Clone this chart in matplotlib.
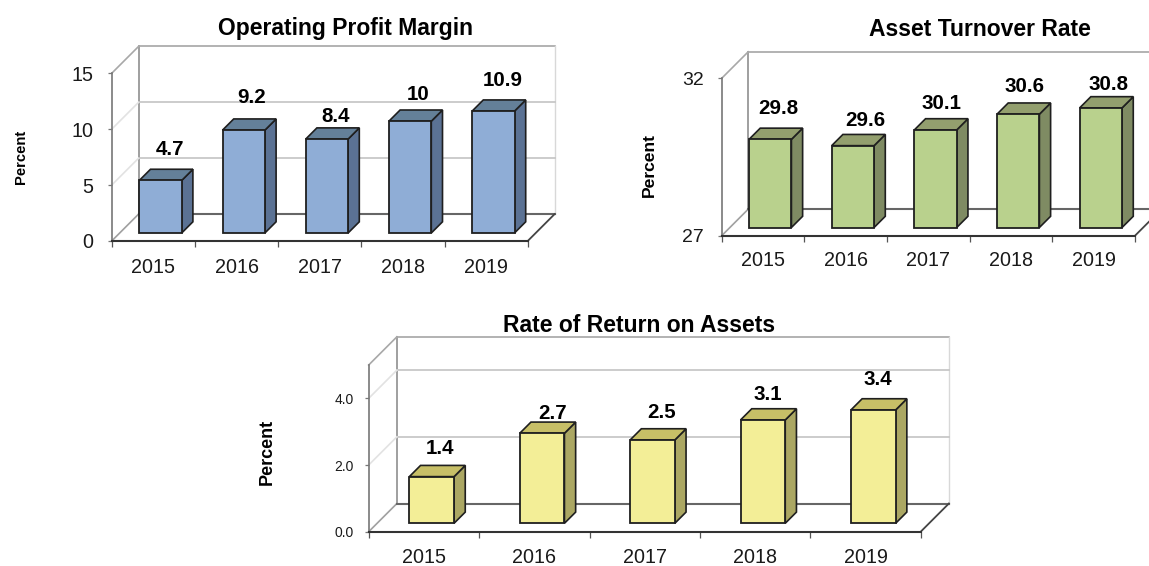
import matplotlib
matplotlib.use("Agg")
import matplotlib.pyplot as plt

W, H = 1149, 566
DPI = 100
PX = 72 / DPI  # one pixel in points

plt.rcParams['font.family'] = ['Liberation Sans', 'DejaVu Sans']

years = [2015, 2016, 2017, 2018, 2019]

# values
profit_margin = [4.7, 9.2, 8.4, 10, 10.9]
asset_turnover = [29.8, 29.6, 30.1, 30.6, 30.8]
return_on_assets = [1.4, 2.7, 2.5, 3.1, 3.4]

profit_ticks = [0, 5, 10, 15]
turnover_ticks = [27, 32]
return_ticks = [0.0, 2.0, 4.0]
return_ylim = (0.0, 5.0)

fig = plt.figure(figsize=(W / DPI, H / DPI), dpi=DPI, facecolor='white')


def draw_chart(values, ticks, ylim, rect, depth, bar_w, bar_off, colors, title, title_xy,
               percent_xy, percent_size, tick_fmt, ytick_size, ytick_pad, xtick_pad, grid, nudges):
    left, right, top, bottom = rect  # front plane in pixels
    ax = fig.add_axes([left / W, 1 - bottom / H, (right - left) / W, (bottom - top) / H])
    ax.set_xlim(0, len(values))
    ax.set_ylim(*ylim)
    ax.patch.set_alpha(0)

    # pixel sizes turned into data units
    ux = len(values) / (right - left)
    uy = (ylim[1] - ylim[0]) / (bottom - top)
    dx, dy = depth * ux, depth * uy
    n = len(values)
    lo, hi = ylim

    # walls and floor
    ax.plot([dx, dx], [lo + dy, hi + dy], color='#8f8f8f', lw=1.2, clip_on=False, zorder=1)
    ax.plot([dx, n + dx], [hi + dy, hi + dy], color='#a6a6a6', lw=1.2, clip_on=False, zorder=1)
    ax.plot([n + dx, n + dx], [lo + dy, hi + dy], color='#d8d8d8', lw=1.0, clip_on=False, zorder=1)
    ax.plot([0, dx], [hi, hi + dy], color='#a8a8a8', lw=1.2, clip_on=False, zorder=1)
    ax.plot([0, dx], [lo, lo + dy], color='#a0a0a0', lw=1.2, clip_on=False, zorder=1)
    ax.plot([dx, n + dx], [lo + dy, lo + dy], color='#666666', lw=1.5, clip_on=False, zorder=1)
    ax.plot([n, n + dx], [lo, lo + dy], color='#444444', lw=1.3, clip_on=False, zorder=1)
    for t in grid:
        ax.plot([dx, n + dx], [t + dy, t + dy], color='#c4c4c4', lw=1.2, clip_on=False, zorder=1)
        ax.plot([0, dx], [t, t + dy], color='#e2e2e2', lw=1.2, clip_on=False, zorder=1)

    # bars: front face through ax.bar, side and top as polygons
    base = lo + bar_off[1] * uy
    bar_d = 11.2
    bdx, bdy = bar_d * ux, bar_d * uy
    w = bar_w * ux
    for i, v in enumerate(values):
        x0 = i + 0.5 + bar_off[0] * ux - w / 2
        x1 = x0 + w
        yt = v + bar_off[1] * uy
        ax.fill([x1, x1 + bdx, x1 + bdx, x1], [base, base + bdy, yt + bdy, yt],
                facecolor=colors[1], edgecolor='#1f1f1f', lw=1.2, clip_on=False, zorder=3)
        ax.fill([x0, x1, x1 + bdx, x0 + bdx], [yt, yt, yt + bdy, yt + bdy],
                facecolor=colors[2], edgecolor='#1f1f1f', lw=1.2, clip_on=False, zorder=3)
        ax.bar(x0 + w / 2, yt - base, w, bottom=base, color=colors[0], edgecolor='#1f1f1f',
               lw=1.3, clip_on=False, zorder=4)
        ax.annotate(str(v), (x0 + w / 2, yt), xytext=(nudges[i][0] * PX, nudges[i][1] * PX),
                    textcoords='offset points', ha='center', va='center', fontsize=14.8,
                    fontweight='bold', color='black', zorder=6, annotation_clip=False)

    # axes
    for s in ('top', 'right'):
        ax.spines[s].set_visible(False)
    ax.spines['bottom'].set_color('#333333')
    ax.spines['bottom'].set_linewidth(1.5)
    ax.spines['left'].set_color('#777777')
    ax.spines['left'].set_linewidth(1.2)
    ax.spines['left'].set_bounds(lo, hi)

    ax.set_xticks(range(n + 1))
    ax.set_xticklabels([])
    ax.set_xticks([i + 0.5 for i in range(n)], minor=True)
    ax.set_xticklabels([str(y) for y in years], minor=True, fontsize=14.2, color='#1a1a1a')
    ax.tick_params(axis='x', which='major', length=4, width=0.9, color='#555555')
    ax.tick_params(axis='x', which='minor', length=0, pad=xtick_pad)
    ax.set_yticks(ticks)
    ax.set_yticklabels([tick_fmt.format(t) for t in ticks], fontsize=ytick_size, color='#1a1a1a')
    ax.tick_params(axis='y', length=3, width=0.9, color='#777777', pad=ytick_pad)

    fig.text(title_xy[0] / W, 1 - title_xy[1] / H, title, ha='center', va='center',
             fontsize=16.5, fontweight='bold', color='black')
    fig.text(percent_xy[0] / W, 1 - percent_xy[1] / H, 'Percent', ha='center', va='center',
             rotation=90, fontsize=percent_size, fontweight='bold', color='black')


draw_chart(profit_margin, profit_ticks, (0, 15), (111.7, 527.7, 73.3, 241), 26.8, 42.4, (7.2, 8.0),
           ('#8fadd6', '#5b7294', '#648099'), 'Operating Profit Margin', (346, 28),
           (21, 157), 10.6, '{:d}', 14.2, 10, 12, [5, 10],
           [(10, 31), (8, 33), (9, 23), (8, 27), (9, 31)])

draw_chart(asset_turnover, turnover_ticks, (27, 32), (721.7, 1135, 78.3, 235.7), 26.5, 42.4, (7.2, 8.2),
           ('#b9d18d', '#7f8b63', '#939f6e'), 'Asset Turnover Rate', (980, 30),
           (649, 165), 12.6, '{:d}', 14.0, 10, 11, [],
           [(8, 31), (12, 25), (6, 26), (6, 28), (8, 23)])

draw_chart(return_on_assets, return_ticks, return_ylim, (368.7, 920.7, 365, 531.7), 28.2, 44.7, (7.8, 8.4),
           ('#f3ee97', '#aba763', '#c7bf67'), 'Rate of Return on Assets', (639, 325),
           (267, 452), 13.0, '{:.1f}', 10.0, 8, 12, [2, 4],
           [(8, 28), (10, 19.5), (9, 27), (5, 25), (5, 30)])

fig.savefig('out.png', dpi=DPI, facecolor='white')
